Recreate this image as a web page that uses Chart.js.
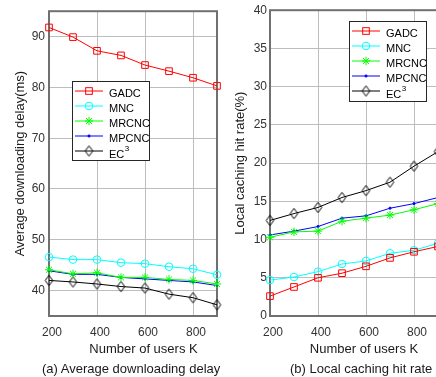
<!DOCTYPE html>
<html><head><meta charset="utf-8">
<script src="https://cdn.jsdelivr.net/npm/chart.js@4/dist/chart.umd.min.js"></script>
<style>
html,body{margin:0;padding:0;background:#fff;overflow:hidden;width:436px;height:377px;}
#wrap{position:relative;width:436px;height:377px;overflow:hidden;}
#cA{position:absolute;left:0;top:0;}
#cB{position:absolute;left:226px;top:0;}
.t{position:absolute;font-family:"Liberation Sans",Arial,sans-serif;color:#1a1a1a;white-space:nowrap;font-size:13px;line-height:15px;}
.c{transform:translate(-50%,-50%);}
.l{transform:translate(0,-50%);}
</style></head><body>
<div id="wrap">
<canvas id="cA" width="226" height="377"></canvas>
<canvas id="cB" width="232" height="377"></canvas>
<div class="t c" style="left:143.5px;top:348px">Number of users K</div>
<div class="t c" style="left:364px;top:348px">Number of users K</div>
<div class="t l" style="left:42px;top:368px">(a) Average downloading delay</div>
<div class="t l" style="left:290px;top:368px">(b) Local caching hit rate</div>
</div>
<script>
// ---- data ----
const users = [200, 300, 400, 500, 600, 700, 800, 900];
const seriesNames = ['GADC', 'MNC', 'MRCNC', 'MPCNC', 'EC³'];
const delayGADC  = [91.8, 89.9, 87.2, 86.3, 84.4, 83.2, 81.9, 80.3];
const delayMNC   = [46.6, 46.1, 46.1, 45.5, 45.3, 44.7, 44.3, 43.1];
const delayMRCNC = [44.1, 43.3, 43.5, 42.6, 42.6, 42.2, 42.0, 41.3];
const delayMPCNC = [43.9, 43.2, 43.2, 42.6, 42.3, 42.0, 41.7, 41.0];
const delayEC3   = [42.0, 41.7, 41.3, 40.8, 40.5, 39.3, 38.6, 37.2];
const hitGADC  = [2.6, 3.8, 5.0, 5.6, 6.5, 7.6, 8.4, 9.1];
const hitMNC   = [4.7, 5.1, 5.8, 6.8, 7.2, 8.2, 8.6, 9.5];
const hitMRCNC = [10.3, 11.0, 11.1, 12.4, 12.8, 13.2, 13.9, 14.7];
const hitMPCNC = [10.6, 11.1, 11.7, 12.8, 13.1, 14.1, 14.7, 15.5];
const hitEC3   = [12.5, 13.4, 14.2, 15.5, 16.4, 17.5, 19.6, 21.5];
const userTicks  = [200, 400, 600, 800];
const delayTicks = [40, 50, 60, 70, 80, 90];
const hitTicks   = [0, 5, 10, 15, 20, 25, 30, 35, 40];

// ---- styles ----
function diamondCanvas() {
  const c = document.createElement('canvas');
  c.width = 11; c.height = 13;
  const g = c.getContext('2d');
  g.strokeStyle = '#000'; g.lineWidth = 1;
  g.beginPath();
  g.moveTo(5.5, 1.3); g.lineTo(9.3, 6.5); g.lineTo(5.5, 11.7); g.lineTo(1.7, 6.5);
  g.closePath(); g.stroke();
  return c;
}
const diamond = diamondCanvas();
const styles = [
  {color: '#ff0000', pointStyle: 'rect', radius: 4.7, fill: 'rgba(0,0,0,0)'},
  {color: '#00ffff', pointStyle: 'circle', radius: 3.8, fill: 'rgba(0,0,0,0)'},
  {color: '#00ff00', pointStyle: 'star', radius: 4.2, fill: 'rgba(0,0,0,0)'},
  {color: '#0000ff', pointStyle: 'circle', radius: 1.1, fill: '#0000ff'},
  {color: '#000000', pointStyle: diamond, radius: 5, fill: 'rgba(0,0,0,0)'}
];

function makeDatasets(arrs) {
  return arrs.map((arr, i) => ({
    label: seriesNames[i],
    data: users.map((u, k) => ({x: u, y: arr[k]})),
    borderColor: styles[i].color,
    backgroundColor: styles[i].fill,
    pointBorderColor: styles[i].color,
    pointBackgroundColor: styles[i].fill,
    pointStyle: styles[i].pointStyle,
    pointRadius: styles[i].radius,
    pointHoverRadius: styles[i].radius,
    pointBorderWidth: 1,
    borderWidth: 1,
    tension: 0,
    clip: false
  }));
}

// ---- plugins ----
const frame = {
  id: 'frame',
  beforeDatasetsDraw(chart) {
    const {ctx, chartArea: a} = chart;
    ctx.save();
    ctx.strokeStyle = '#707070';
    ctx.lineWidth = 2;
    ctx.strokeRect(a.left, a.top, a.right - a.left, a.bottom - a.top);
    ctx.restore();
  }
};

function drawMarker(ctx, st, x, y) {
  ctx.save();
  ctx.strokeStyle = st.color; ctx.fillStyle = st.fill; ctx.lineWidth = 1;
  const r = st.radius;
  if (st.pointStyle === 'rect') {
    const s = Math.SQRT1_2 * r;
    ctx.strokeRect(x - s, y - s, 2 * s, 2 * s);
  } else if (st.pointStyle === 'circle') {
    ctx.beginPath(); ctx.arc(x, y, r, 0, Math.PI * 2);
    ctx.fill(); ctx.stroke();
  } else if (st.pointStyle === 'star') {
    ctx.beginPath();
    ctx.moveTo(x - r, y); ctx.lineTo(x + r, y);
    ctx.moveTo(x, y - r); ctx.lineTo(x, y + r);
    const d = Math.SQRT1_2 * r;
    ctx.moveTo(x - d, y - d); ctx.lineTo(x + d, y + d);
    ctx.moveTo(x + d, y - d); ctx.lineTo(x - d, y + d);
    ctx.stroke();
  } else {
    ctx.drawImage(st.pointStyle, x - st.pointStyle.width / 2, y - st.pointStyle.height / 2);
  }
  ctx.restore();
}

const boxLegend = {
  id: 'boxLegend',
  afterDraw(chart, args, opts) {
    const {ctx} = chart;
    const {x, y, w, h} = opts;
    ctx.save();
    ctx.fillStyle = '#fff';
    ctx.fillRect(x, y, w, h);
    ctx.strokeStyle = '#262626';
    ctx.lineWidth = 1;
    ctx.strokeRect(x + 0.5, y + 0.5, w, h);
    seriesNames.forEach((name, i) => {
      const ry = y + 10 + 15 * i;
      const st = styles[i];
      ctx.strokeStyle = st.color; ctx.lineWidth = 1;
      ctx.beginPath(); ctx.moveTo(x + 3, ry); ctx.lineTo(x + 31, ry); ctx.stroke();
      drawMarker(ctx, st, x + 17, ry);
      ctx.fillStyle = '#000';
      ctx.textBaseline = 'middle';
      ctx.textAlign = 'left';
      ctx.font = '11px "Liberation Sans", Arial, sans-serif';
      if (name === 'EC³') {
        ctx.fillText('EC', x + 37, ry + 4);
        const wEC = ctx.measureText('EC').width;
        ctx.font = '8px "Liberation Sans", Arial, sans-serif';
        ctx.fillText('3', x + 37 + wEC + 0.5, ry - 2.5);
      } else {
        ctx.fillText(name, x + 37, ry + 2.5);
      }
    });
    ctx.restore();
  }
};

const tickFont = {family: '"Liberation Sans", Arial, sans-serif', size: 12};
const titleFont = {family: '"Liberation Sans", Arial, sans-serif', size: 13};
const gridOpts = {color: '#bdbdbd', lineWidth: 1, drawTicks: false};

function makeChart(el, datasets, o) {
  return new Chart(el, {
    type: 'line',
    data: {datasets},
    options: {
      responsive: false,
      animation: false,
      events: [],
      layout: {padding: {top: 10, left: 0, right: o.padRight, bottom: 0}},
      plugins: {
        legend: {display: false},
        tooltip: {enabled: false},
        boxLegend: o.legend
      },
      scales: {
        x: {
          type: 'linear', min: 200, max: 900,
          afterBuildTicks: s => { s.ticks = userTicks.map(v => ({value: v})); },
          afterFit: s => { s.height = 61; },
          grid: gridOpts,
          border: {display: false},
          ticks: {font: tickFont, color: '#333', padding: 9, labelOffset: 3, maxRotation: 0, autoSkip: false}
        },
        y: {
          type: 'linear', min: o.yMin, max: o.yMax,
          afterBuildTicks: s => { s.ticks = o.yTicks.map(v => ({value: v})); },
          afterFit: s => { s.width = o.yWidth; },
          grid: gridOpts,
          border: {display: false},
          ticks: {font: tickFont, color: '#333', padding: o.yPad, autoSkip: false},
          title: {display: true, text: o.yTitle, font: titleFont, color: '#1a1a1a', padding: {top: o.titlePad, bottom: 0}}
        }
      }
    },
    plugins: [frame, boxLegend]
  });
}

makeChart(document.getElementById('cA'),
  makeDatasets([delayGADC, delayMNC, delayMRCNC, delayMPCNC, delayEC3]),
  {padRight: 9, yMin: 35, yMax: 95, yTicks: delayTicks, yWidth: 49, yPad: 4, titlePad: 13,
   yTitle: 'Average downloading delay(ms)', legend: {x: 72, y: 81, w: 77, h: 79}});

makeChart(document.getElementById('cB'),
  makeDatasets([hitGADC, hitMNC, hitMRCNC, hitMPCNC, hitEC3]),
  {padRight: 20, yMin: 0, yMax: 40, yTicks: hitTicks, yWidth: 44, yPad: 3, titlePad: 7,
   yTitle: 'Local caching hit rate(%)', legend: {x: 349 - 226, y: 21, w: 77, h: 80}});
</script>
</body></html>
